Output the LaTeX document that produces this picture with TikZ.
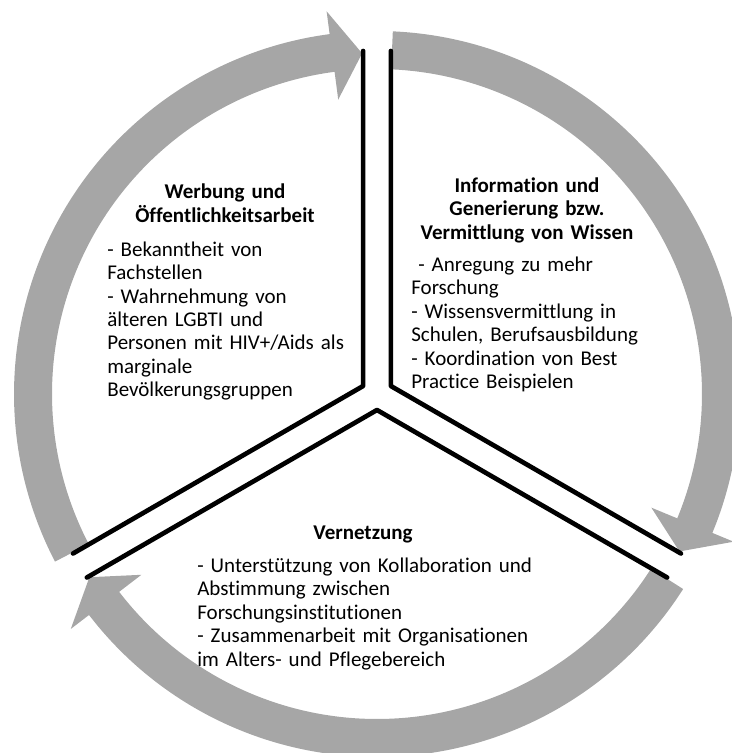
\documentclass[tikz,border=0pt]{standalone}
\usepackage{fontspec}
\setmainfont[Ligatures=NoCommon]{Carlito}
\usepackage{tikz}
\definecolor{ringgrau}{HTML}{A6A6A6}
\tikzstyle{pfeil}=[fill=ringgrau]
\tikzstyle{kante}=[draw=black,line width=2.8pt,line cap=round,line join=round]
\tikzstyle{titel}=[inner sep=0pt,text width=7cm,align=center,anchor=base,
font=\bfseries\fontsize{12.6}{14.1}\selectfont]
\tikzstyle{liste}=[inner sep=0pt,text width=8cm,align=left,anchor=base west,
font=\fontsize{12.6}{14.1}\selectfont]

\begin{document}
\begin{tikzpicture}[x=0.6pt,y=0.6pt]
    \clip (-377,-359) rectangle (355,394);
    % graue Pfeile, im Uhrzeigersinn
    \foreach \t in {207.5,87.5,-32.5}
        \fill[pfeil] (\t:363) arc[start angle=\t,end angle=\t-110,radius=363]
            -- ({\t-110}:386) -- ({\t-115}:341) -- ({\t-110}:297) -- ({\t-110}:325)
            arc[start angle=\t-110,end angle=\t,radius=325] -- cycle;
    % Kanten der drei Segmente
    \foreach \m in {150,30,270}
        \draw[kante,shift={(\m:16)}] ({\m+60}:335) -- (0,0) -- ({\m-60}:335);
    \node [style=titel] (werbung) at (-152,195) {Werbung und\\Öffentlichkeitsarbeit};
    \node [style=liste] (werbungText) at (-270,138) {- Bekanntheit von\\Fachstellen\\- Wahrnehmung von\\älteren LGBTI und\\Personen mit HIV+/Aids als\\marginale\\Bevölkerungsgruppen};
    \node [style=titel] (info) at (150,202) {Information und\\Generierung bzw.\\Vermittlung von Wissen};
    \node [style=liste] (infoText) at (34,123) {\ - Anregung zu mehr\\Forschung\\- Wissensvermittlung in\\Schulen, Berufsausbildung\\- Koordination von Best\\Practice Beispielen};
    \node [style=titel] (vernetzung) at (-14,-145) {Vernetzung};
    \node [style=liste] (vernetzungText) at (-180,-178) {- Unterstützung von Kollaboration und\\Abstimmung zwischen\\Forschungsinstitutionen\\- Zusammenarbeit mit Organisationen\\im Alters- und Pflegebereich};
\end{tikzpicture}
\end{document}
